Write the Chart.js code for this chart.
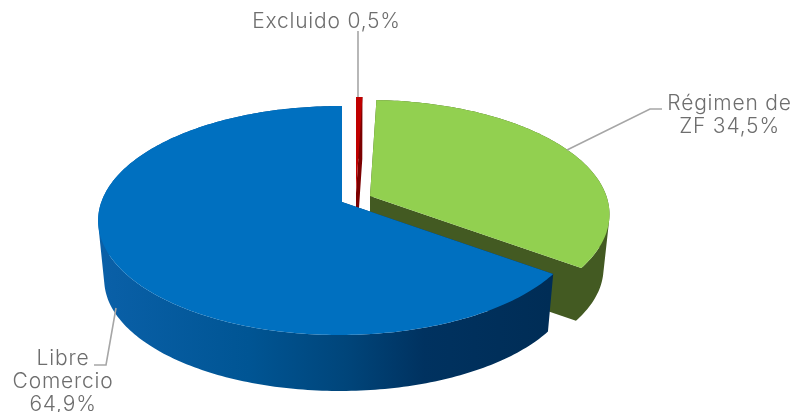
<!DOCTYPE html>
<html><head><meta charset="utf-8">
<style>html,body{margin:0;padding:0;background:#fff}canvas{display:block}</style>
<script src="https://cdn.jsdelivr.net/npm/chart.js@4"></script>
</head><body>
<canvas id="c" width="795" height="412"></canvas>
<script>
const categories = ["Excluido", "Régimen de ZF", "Libre Comercio"];
const shareValues = [0.5, 34.5, 64.9];
const topColors = ["#c00000", "#92d050", "#0070c0"];
const sideColors = ["#7c0000", "#435a22", "#00457a"];
const labelLines = [["Excluido 0,5%"], ["Régimen de", "ZF 34,5%"], ["Libre", "Comercio", "64,9%"]];

const view = { S: 238.5, T: 111.5, k: 0.1616, m: 0.009, shrink: 0.975 };
const depths = [59.3, 54.5, 59.3];
const apexes = [{x:356,y:193},{x:370,y:196},{x:342,y:202}];
const labelPos = [
  {x:326.5,y:28,lh:23},
  {x:729.5,y:110,lh:23},
  {x:63,y:365,lh:23}
];
const leaders = [
  [[358,31],[358,97]],
  [[567,150],[650,109],[662,109]],
  [[116,308],[106,365],[94,365]]
];
const drawOrder = [1,0,2];

function project(apex, phi, r, bottom, depth){
  const u = r*Math.sin(phi), v = -r*Math.cos(phi), w = 1 - view.k*v + view.m*u;
  const X = view.S*u/w, Y = view.T*v/w;
  if(!bottom) return [apex.x+X, apex.y+Y];
  return [apex.x+X*view.shrink, apex.y+depth+Y*view.shrink];
}
function signedArea(pts){
  let a=0;
  pts.forEach((p,i)=>{const q=pts[(i+1)%pts.length]; a+=p[0]*q[1]-q[0]*p[1];});
  return a;
}
// All quads of a solid share one winding, so the non-zero fill is a seamless union.
function fillUnion(ctx, polys, fill){
  ctx.beginPath();
  polys.forEach(raw=>{
    const pts = signedArea(raw)<0 ? raw.slice().reverse() : raw;
    pts.forEach((p,i)=> i?ctx.lineTo(p[0],p[1]):ctx.moveTo(p[0],p[1]));
    ctx.closePath();
  });
  ctx.fillStyle = fill; ctx.fill('nonzero');
}
const pie3d = {
  id:'pie3d',
  beforeDatasetDraw(chart){
    const ctx = chart.ctx, arcs = chart.getDatasetMeta(0).data;
    ctx.save();
    drawOrder.forEach(i=>{
      const a = arcs[i], apex = apexes[i], d = depths[i];
      const s = a.startAngle+Math.PI/2, e = a.endAngle+Math.PI/2;
      const n = Math.max(2, Math.ceil((e-s)*180/Math.PI));
      const topArc=[], botArc=[];
      for(let j=0;j<=n;j++){
        const p = s+(e-s)*j/n;
        topArc.push(project(apex,p,1,false,d));
        botArc.push(project(apex,p,1,true,d));
      }
      const A = project(apex,0,0,false,d), B = project(apex,0,0,true,d);
      let side = sideColors[i];
      if(i===2){
        const g = ctx.createLinearGradient(100,0,550,0);
        g.addColorStop(0,"#0a60a8"); g.addColorStop(0.33,"#005594");
        g.addColorStop(0.55,"#00457a"); g.addColorStop(0.72,"#003260"); g.addColorStop(1,"#002d56");
        side = g;
      }
      const quads = [[A,topArc[0],botArc[0],B],[A,topArc[n],botArc[n],B]];
      for(let j=0;j<n;j++) quads.push([topArc[j],topArc[j+1],botArc[j+1],botArc[j]]);
      fillUnion(ctx,quads,side);
      fillUnion(ctx,[[A].concat(topArc)],topColors[i]);
    });
    ctx.restore();
    return false;
  },
  afterDraw(chart){
    const ctx = chart.ctx;
    ctx.save();
    ctx.strokeStyle="#a6a6a6"; ctx.lineWidth=1.6;
    leaders.forEach(l=>{
      ctx.beginPath();
      l.forEach((p,i)=> i?ctx.lineTo(p[0],p[1]):ctx.moveTo(p[0],p[1]));
      ctx.stroke();
    });
    ctx.fillStyle="#6e6e6e";
    ctx.font='300 21px Inter';
    ctx.letterSpacing='0.8px';
    ctx.textAlign='center'; ctx.textBaseline='alphabetic';
    labelLines.forEach((lines,i)=>{
      lines.forEach((t,j)=> ctx.fillText(t,labelPos[i].x,labelPos[i].y+j*labelPos[i].lh));
    });
    ctx.restore();
  }
};
new Chart(document.getElementById('c'),{
  type:'pie',
  data:{labels:categories,datasets:[{data:shareValues,backgroundColor:topColors,borderWidth:0}]},
  options:{responsive:false,animation:false,
    plugins:{legend:{display:false},tooltip:{enabled:false}}},
  plugins:[pie3d]
});
</script>
</body></html>
